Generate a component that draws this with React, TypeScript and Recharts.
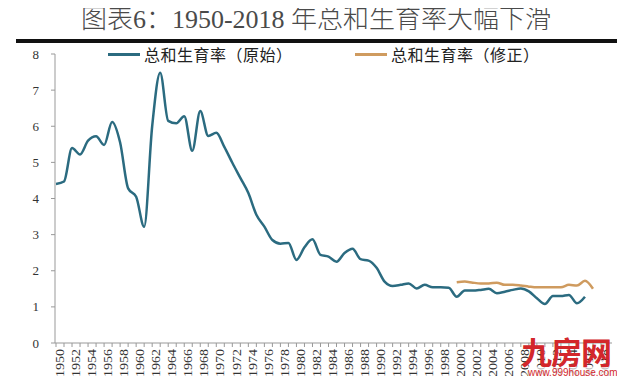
import { LineChart, Line, XAxis, YAxis, Legend } from "recharts";

const years = Array.from({ length: 69 }, (_, i) => 1950 + i);

// 总和生育率（原始）1950-2016
const original = [
  4.4, 4.47, 5.4, 5.22, 5.6, 5.72, 5.48, 6.12, 5.55, 4.28,
  4.05, 3.22, 6.0, 7.48, 6.15, 6.08, 6.28, 5.32, 6.42, 5.73,
  5.82, 5.43, 4.99, 4.57, 4.15, 3.55, 3.22, 2.85, 2.75, 2.77,
  2.3, 2.65, 2.87, 2.44, 2.39, 2.25, 2.49, 2.61, 2.32, 2.28,
  2.08, 1.7, 1.58, 1.61, 1.65, 1.51, 1.61, 1.54, 1.54, 1.53,
  1.28, 1.45, 1.45, 1.47, 1.5, 1.38, 1.42, 1.47, 1.51, 1.43,
  1.24, 1.08, 1.3, 1.3, 1.33, 1.1, 1.28,
];

// 总和生育率（修正）2000-2017
const revisedStart = 2000;
const revised = [
  1.68, 1.7, 1.67, 1.65, 1.65, 1.67, 1.61, 1.61, 1.59, 1.56,
  1.54, 1.54, 1.54, 1.54, 1.61, 1.59, 1.72, 1.5,
];

const yTicks = [0, 1, 2, 3, 4, 5, 6, 7, 8];

const BLUE = "#2b6b80";
const ORANGE = "#cf9b5f";

const data = years.map((year, i) => ({
  year,
  original: i < original.length ? original[i] : null,
  revised:
    year >= revisedStart && year - revisedStart < revised.length
      ? revised[year - revisedStart]
      : null,
}));

const serif = "'Liberation Serif', 'Noto Sans CJK SC', serif";
const cjk = "'Noto Sans CJK SC', sans-serif";

function XTick(props: any) {
  const { x, y, payload } = props;
  const yr = Number(payload.value);
  if (yr % 2 !== 0) return <g />;
  const lx = x + 4;
  return (
    <text
      x={lx}
      y={y}
      dy="0.35em"
      transform={`rotate(-90, ${lx}, ${y})`}
      textAnchor="end"
      fontFamily={serif}
      fontSize={12}
      textLength={28}
      lengthAdjust="spacingAndGlyphs"
      fill="#333"
    >
      {yr}
    </text>
  );
}

function LegendBox() {
  const item = (color: string, label: string, left: number) => (
    <div style={{ position: "absolute", left, top: 0, display: "flex", alignItems: "center" }}>
      <div style={{ width: 32, height: 3, background: color, marginRight: 4 }} />
      <span style={{ fontFamily: cjk, fontSize: 16, color: "#222", letterSpacing: 0.5 }}>{label}</span>
    </div>
  );
  return (
    <div style={{ position: "relative", width: 625, height: 22 }}>
      {item(BLUE, "总和生育率（原始）", 108)}
      {item(ORANGE, "总和生育率（修正）", 355)}
    </div>
  );
}

export default function App() {
  return (
    <div style={{ position: "relative", width: 625, height: 384, margin: -8, background: "#fff", overflow: "hidden" }}>
      <div
        style={{
          position: "absolute",
          top: 5,
          left: 0,
          width: 632,
          textAlign: "center",
          fontFamily: serif,
          fontSize: 26,
          fontWeight: 300,
          color: "#4a4a4a",
          lineHeight: "30px",
          whiteSpace: "nowrap",
        }}
      >
        图表6：1950-2018 年总和生育率大幅下滑
      </div>
      <div style={{ position: "absolute", top: 39, left: 16, width: 602, height: 4, background: "#111" }} />
      <div style={{ position: "absolute", top: 43, left: 621, width: 1, height: 338, background: "#bbb" }} />
      <div style={{ position: "absolute", top: 0, left: 0 }}>
        <LineChart width={625} height={384} data={data} margin={{ top: 32, right: 13, bottom: 0, left: 15 }}>
          <Legend
            verticalAlign="top"
            height={22}
            content={<LegendBox />}
            wrapperStyle={{ top: 42, left: 0, width: 625 }}
          />
          <XAxis
            dataKey="year"
            interval={0}
            tickSize={4}
            tickMargin={2}
            height={41}
            padding={{ left: 1, right: 11 }}
            axisLine={{ stroke: "#999" }}
            tickLine={{ stroke: "#999" }}
            tick={<XTick />}
          />
          <YAxis
            domain={[0, 8]}
            ticks={yTicks}
            width={40}
            tickSize={4}
            tickMargin={12}
            axisLine={{ stroke: "#999" }}
            tickLine={{ stroke: "#999" }}
            tick={{ fontFamily: serif, fontSize: 13, fill: "#333" }}
          />
          <Line
            type="monotone"
            dataKey="original"
            stroke={BLUE}
            strokeWidth={2.5}
            dot={false}
            isAnimationActive={false}
            legendType="none"
          />
          <Line
            type="monotone"
            dataKey="revised"
            stroke={ORANGE}
            strokeWidth={2.5}
            dot={false}
            isAnimationActive={false}
            legendType="none"
          />
        </LineChart>
      </div>
      <div
        style={{
          position: "absolute",
          left: 521,
          top: 334,
          fontFamily: cjk,
          fontSize: 31,
          fontWeight: 700,
          color: "#d3272b",
          lineHeight: "34px",
          letterSpacing: -1,
        }}
      >
        九房网
      </div>
      <div
        style={{
          position: "absolute",
          left: 528,
          top: 367,
          fontFamily: "'Liberation Sans', sans-serif",
          fontSize: 10,
          color: "#d3272b",
          lineHeight: "12px",
          background: "rgba(255,255,255,0.7)",
        }}
      >
        www.999house.com
      </div>
      <div style={{ position: "absolute", top: 381, left: 17, width: 604, height: 3, background: "#111" }} />
    </div>
  );
}
